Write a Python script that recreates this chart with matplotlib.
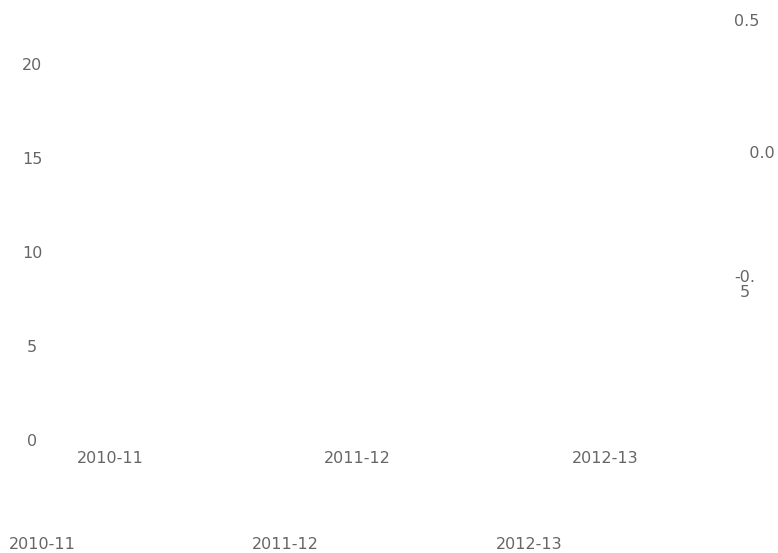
import matplotlib
matplotlib.use("Agg")
import matplotlib.pyplot as plt

# categories on the two x axes
seasons = ["2010-11", "2011-12", "2012-13"]
seasons_lower = ["2010-11", "2011-12", "2012-13"]

# left and right y ticks
left_ticks = [0, 5, 10, 15, 20]
right_ticks = [-0.5, 0.0, 0.5]
right_labels = ["-0.\n5", "   0.0", "0.5"]

# series values (nothing is drawn in the reference chart)
values = []

W, H = 778, 553
fig = plt.figure(figsize=(W / 100, H / 100), dpi=100)
txt = "#666666"
fs = 11.5

ax = fig.add_axes([20 / W, (H - 440) / H, 710 / W, 430 / H])
ax.set_xlim(-0.364, 2.505)
ax.set_ylim(0, 22.87)
ax.set_xticks(range(len(seasons)))
ax.set_xticklabels(seasons)
ax.set_yticks(left_ticks)
ax.set_yticklabels([str(t) for t in left_ticks])
ax.tick_params(axis="x", length=0, pad=8, labelsize=fs, labelcolor=txt)
ax.tick_params(axis="y", length=0, pad=-8.6, labelsize=fs, labelcolor=txt)
plt.setp(ax.get_yticklabels(), ha="center")
for s in ax.spines.values():
    s.set_visible(False)
ax.patch.set_alpha(0)

# right axis
ax2 = ax.twinx()
ax2.set_ylim(-1.091, 0.538)
ax2.set_yticks(right_ticks)
ax2.set_yticklabels(right_labels)
ax2.tick_params(axis="y", length=0, pad=2.9, labelsize=fs, labelcolor=txt)
plt.setp(ax2.get_yticklabels(), ha="left", multialignment="center", linespacing=0.95)
for s in ax2.spines.values():
    s.set_visible(False)

# second x axis row below
ax3 = ax.twiny()
ax3.xaxis.set_ticks_position("bottom")
ax3.xaxis.set_label_position("bottom")
ax3.set_xlim(-0.090, 2.825)
ax3.set_xticks(range(len(seasons_lower)))
ax3.set_xticklabels(seasons_lower)
ax3.tick_params(axis="x", length=0, pad=69.5, labelsize=fs, labelcolor=txt)
for s in ax3.spines.values():
    s.set_visible(False)

fig.savefig("out.png", dpi=100)
